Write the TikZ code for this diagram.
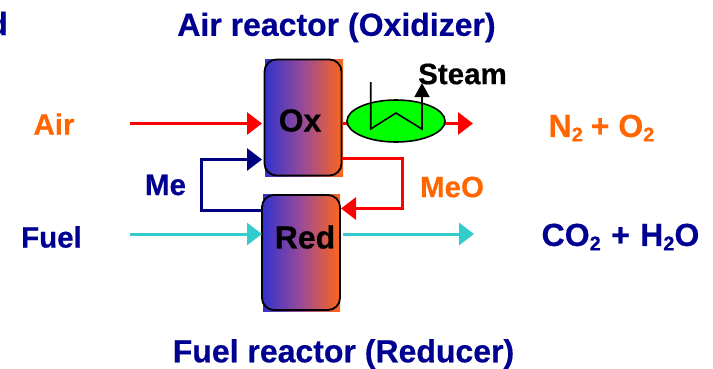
\documentclass[tikz,border=0pt]{standalone}
\usepackage{fontspec}
\setmainfont{Liberation Sans}[BoldFeatures={FakeBold=0.5}]
\usetikzlibrary{arrows.meta,shapes.geometric}
\definecolor{cblue}{RGB}{51,51,204}
\definecolor{cmid}{RGB}{155,75,150}
\definecolor{corange}{RGB}{255,102,25}
\definecolor{lblorange}{RGB}{255,102,0}
\definecolor{cnavy}{RGB}{0,0,128}
\definecolor{tnavy}{RGB}{0,0,145}
\definecolor{ccyan}{RGB}{51,204,204}
\definecolor{cgreen}{RGB}{0,255,0}
\newcommand{\subs}[1]{\raisebox{-0.14em}{\fontsize{20}{20}\selectfont #1}}
\tikzset{
  lbl/.style={font=\fontsize{29.5}{30}\selectfont\bfseries,inner sep=0pt,anchor=center},
  big/.style={font=\fontsize{32}{32}\selectfont\bfseries,inner sep=0pt,anchor=center},
  grad/.style={left color=cblue,right color=corange,middle color=cmid,draw=none,inner sep=0pt},
  reactor/.style={draw=black,line width=1.8pt,rounded corners=12pt,inner sep=0pt},
  flow/.style={line width=3pt,-{Triangle[length=15pt,width=22pt]},shorten >=0pt}
}
\begin{document}
\begin{tikzpicture}[x=1pt,y=-1pt]
\useasboundingbox (0,0) rectangle (713,368);
% cut-off letter at the left edge
\begin{scope}
\clip (0,0) rectangle (713,368);
\node[big,text=tnavy,anchor=base east] (cut) at (8,35) {d};
\end{scope}
% reactors
\node[grad,minimum width=78pt,minimum height=117pt] (oxg) at (304,117.5) {};
\node[grad,minimum width=77pt,minimum height=117pt] (redg) at (301.5,252.5) {};
\node[reactor,minimum width=77pt,minimum height=116pt] (ox) at (303,117.5) {};
\node[reactor,minimum width=78pt,minimum height=115pt] (red) at (301,252.5) {};
\node[big] (oxt) at (300,120.5) {Ox};
\node[big] (redt) at (305,237) {Red};
% coordinates
\coordinate (airS) at (130,123.5);
\coordinate (airE) at (262,123.5);
\coordinate (oxR) at (343,123.5);
\coordinate (airOut) at (473,123.5);
\coordinate (fuelS) at (130,234);
\coordinate (fuelE) at (262,234);
\coordinate (fuelR) at (343,234);
\coordinate (fuelOut) at (474,234);
\coordinate (meS) at (262,210);
\coordinate (meA) at (201.5,210);
\coordinate (meB) at (201.5,159.5);
\coordinate (meE) at (262,159.5);
\coordinate (meoS) at (342,158);
\coordinate (meoA) at (402.5,158);
\coordinate (meoB) at (402.5,208.5);
\coordinate (meoE) at (341,208.5);
% flows
\draw[flow,red] (airS) -- (airE);
\draw[flow,red] (oxR) -- (airOut);
\draw[flow,ccyan] (fuelS) -- (fuelE);
\draw[flow,ccyan] (fuelR) -- (fuelOut);
\draw[flow,cnavy,line join=miter] (meS) -- (meA) -- (meB) -- (meE);
\draw[flow,red,line join=miter] (meoS) -- (meoA) -- (meoB) -- (meoE);
% heat exchanger
\node[ellipse,draw=black,line width=1.6pt,fill=cgreen,minimum width=98pt,minimum height=42pt,inner sep=0pt] (hx) at (396,121) {};
\coordinate (c1) at (370.7,82);
\coordinate (c2) at (370.7,129);
\coordinate (c3) at (396,113);
\coordinate (c4) at (422,129);
\coordinate (c5) at (422,83);
\draw[black,line width=1.6pt,line join=miter,-{Triangle[length=14pt,width=15pt]}] (c1) -- (c2) -- (c3) -- (c4) -- (c5);
% labels
\node[big,text=tnavy] (t1) at (336.5,27.5) {Air reactor (Oxidizer)};
\node[big,text=tnavy] (t2) at (343.5,354) {Fuel reactor (Reducer)};
\node[lbl,text=lblorange] (air) at (54,124) {Air};
\node[lbl,text=tnavy] (fuel) at (51.5,237) {Fuel};
\node[lbl,text=tnavy] (me) at (165.5,185) {Me};
\node[lbl,text=lblorange] (meo) at (452,187) {MeO};
\node[lbl] (steam) at (462.5,74) {Steam};
\node[big,text=lblorange] (n2) at (601.5,128) {N\subs{2}\hspace{-1pt} + O\subs{2}};
\node[big,text=tnavy] (co2) at (620.5,237) {CO\subs{2}\hspace{1.5pt} + \hspace{1.5pt}H\subs{2}O};
\end{tikzpicture}
\end{document}
